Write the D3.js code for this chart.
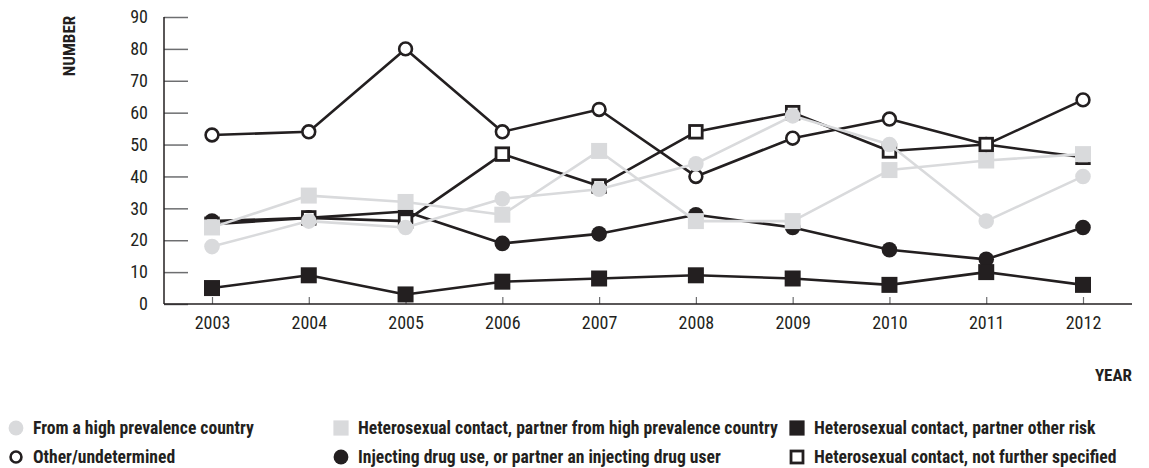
<!DOCTYPE html>
<html>
<head>
<meta charset="utf-8">
<script src="https://cdn.jsdelivr.net/npm/d3@7"></script>
<style>
  html, body { margin: 0; padding: 0; background: #fff; }
  svg { display: block; }
  text { font-family: "Liberation Sans Narrow", "Roboto Condensed", "DejaVu Sans Condensed", "Liberation Sans", sans-serif; }
</style>
</head>
<body>
<svg id="chart" width="1149" height="468"></svg>
<script>
const years = [2003, 2004, 2005, 2006, 2007, 2008, 2009, 2010, 2011, 2012];
const yTicks = [0, 10, 20, 30, 40, 50, 60, 70, 80, 90];

const highPrevCountry     = [18, 26, 24, 33, 36, 44, 59, 50, 26, 40];
const partnerHighPrev     = [24, 34, 32, 28, 48, 26, 26, 42, 45, 47];
const partnerOtherRisk    = [5, 9, 3, 7, 8, 9, 8, 6, 10, 6];
const otherUndetermined   = [53, 54, 80, 54, 61, 40, 52, 58, 50, 64];
const injectingDrug       = [26, 27, 29, 19, 22, 28, 24, 17, 14, 24];
const notFurtherSpecified = [25, 27, 26, 47, 37, 54, 60, 48, 50, 46];

const labels = {
  highPrevCountry: "From a high prevalence country",
  partnerHighPrev: "Heterosexual contact, partner from high prevalence country",
  partnerOtherRisk: "Heterosexual contact, partner other risk",
  otherUndetermined: "Other/undetermined",
  injectingDrug: "Injecting drug use, or partner an injecting drug user",
  notFurtherSpecified: "Heterosexual contact, not further specified"
};

const BLACK = "#231f20", GREY = "#d9dadc";

// draw order bottom -> top
const series = [
  {key: "otherUndetermined", values: otherUndetermined, color: BLACK, shape: "circle", open: true},
  {key: "injectingDrug", values: injectingDrug, color: BLACK, shape: "circle", open: false},
  {key: "notFurtherSpecified", values: notFurtherSpecified, color: BLACK, shape: "square", open: true},
  {key: "partnerOtherRisk", values: partnerOtherRisk, color: BLACK, shape: "square", open: false},
  {key: "partnerHighPrev", values: partnerHighPrev, color: GREY, shape: "square", open: false},
  {key: "highPrevCountry", values: highPrevCountry, color: GREY, shape: "circle", open: false}
];

const svg = d3.select("#chart");
const x = d3.scalePoint().domain(years).range([212, 1083]);
const y = d3.scaleLinear().domain([0, 90]).range([304, 17]);

// Y axis
const yAxis = svg.append("g").attr("transform", "translate(164,0)")
  .call(d3.axisRight(y).tickValues(yTicks).tickSize(24).tickFormat(d3.format("d")));
yAxis.select(".domain").remove();
yAxis.selectAll(".tick line").attr("stroke", "#6d6e70").attr("stroke-width", 1.5);
yAxis.selectAll(".tick text").attr("x", -16).attr("text-anchor", "end")
  .attr("fill", "#231f20").style("font-size", "18px");
svg.append("line").attr("x1", 164).attr("x2", 164).attr("y1", y(90)).attr("y2", y(0))
  .attr("stroke", "#231f20").attr("stroke-width", 1.5);

// X axis
const xAxis = svg.append("g").attr("transform", "translate(0,304)")
  .call(d3.axisTop(x).tickSize(7).tickFormat(d3.format("d")));
xAxis.select(".domain").remove();
xAxis.selectAll(".tick line").attr("stroke", "#6d6e70").attr("stroke-width", 1.2);
xAxis.selectAll(".tick text").attr("y", 25).attr("dy", 0)
  .attr("fill", "#231f20").style("font-size", "18px");
svg.append("line").attr("x1", 164).attr("x2", 1132).attr("y1", 304).attr("y2", 304)
  .attr("stroke", "#231f20").attr("stroke-width", 1.5);

// Axis titles
svg.append("text").attr("transform", "translate(75,46) rotate(-90)")
  .attr("text-anchor", "middle").attr("fill", "#231f20")
  .style("font-size", "17px").style("font-weight", "bold").text("NUMBER");
svg.append("text").attr("x", 1132).attr("y", 381).attr("text-anchor", "end")
  .attr("fill", "#231f20").style("font-size", "17px").style("font-weight", "bold").text("YEAR");

function drawMarker(g, s, cx, cy, scale) {
  const k = scale || 1;
  if (s.shape === "circle") {
    if (s.open) {
      g.append("circle").attr("cx", cx).attr("cy", cy).attr("r", 6.4 * k)
        .attr("fill", "#fff").attr("stroke", s.color).attr("stroke-width", 2.6);
    } else {
      g.append("circle").attr("cx", cx).attr("cy", cy).attr("r", 7.8 * k).attr("fill", s.color);
    }
  } else {
    if (s.open) {
      const a = 12.6 * k;
      g.append("rect").attr("x", cx - a / 2).attr("y", cy - a / 2).attr("width", a).attr("height", a)
        .attr("fill", "#fff").attr("stroke", s.color).attr("stroke-width", 2.8);
    } else {
      const a = 16 * k;
      g.append("rect").attr("x", cx - a / 2).attr("y", cy - a / 2).attr("width", a).attr("height", a)
        .attr("fill", s.color);
    }
  }
}

const line = d3.line().x((d, i) => x(years[i])).y(d => y(d));
series.forEach(s => {
  const g = svg.append("g");
  g.append("path").attr("d", line(s.values)).attr("fill", "none")
    .attr("stroke", s.color).attr("stroke-width", 2.6).attr("stroke-linejoin", "round");
  s.values.forEach((v, i) => drawMarker(g, s, x(years[i]), y(v)));
});

// Legend
const legendLayout = [
  {key: "highPrevCountry", col: 0, row: 0},
  {key: "partnerHighPrev", col: 1, row: 0},
  {key: "partnerOtherRisk", col: 2, row: 0},
  {key: "otherUndetermined", col: 0, row: 1},
  {key: "injectingDrug", col: 1, row: 1},
  {key: "notFurtherSpecified", col: 2, row: 1}
];
const colX = [16, 341, 797];
const rowY = [428, 457];
const lg = svg.append("g");
legendLayout.forEach(L => {
  const s = series.find(t => t.key === L.key);
  const cx = colX[L.col], cy = rowY[L.row];
  drawMarker(lg, s, cx, cy, s.shape === "circle" && s.open ? 0.85 : 0.95);
  lg.append("text").attr("x", cx + 17).attr("y", cy).attr("dy", "0.36em")
    .attr("fill", "#231f20").style("font-size", "17.6px").style("font-weight", "bold")
    .text(labels[L.key]);
});
</script>
</body>
</html>
